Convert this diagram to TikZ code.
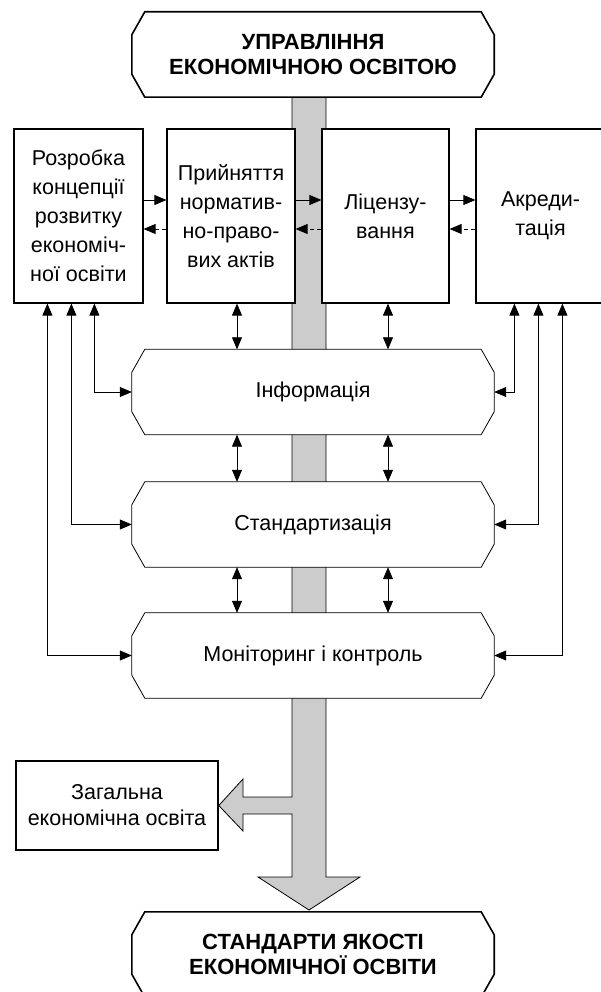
\documentclass[tikz,border=0pt]{standalone}
\usepackage{fontspec}
\setmainfont{Liberation Sans}
\usetikzlibrary{arrows.meta,backgrounds}

\definecolor{barfill}{HTML}{CCCCCC}

\tikzset{
  arr/.style={line width=0.8pt, -{Triangle[length=12pt,width=10pt]}},
  dbl/.style={line width=0.8pt, {Triangle[length=12pt,width=10pt]}-{Triangle[length=12pt,width=10pt]}},
  capbox/.style={minimum width=362pt, minimum height=85pt, inner sep=0pt, align=center,
    font=\fontsize{22}{24.5}\selectfont\bfseries},
  stepbox/.style={draw, line width=1.2pt, fill=white, minimum height=174pt, inner sep=0pt,
    align=center, font=\fontsize{21.5}{29}\selectfont},
  cutbox/.style={minimum width=362pt, minimum height=85pt, inner sep=0pt, align=center,
    font=\fontsize{21.5}{25}\selectfont},
  genbox/.style={draw, line width=1.6pt, fill=white, minimum width=202pt, minimum height=89pt,
    inner sep=0pt, align=center, font=\fontsize{21.5}{26}\selectfont},
}

% outline with cut corners round a named node
\newcommand\chamfer[2][]{%
  \draw[fill=white, #1] ([xshift=13pt]#2.north west) -- ([xshift=-13pt]#2.north east)
    -- ([yshift=-23pt]#2.north east) -- ([yshift=23pt]#2.south east)
    -- ([xshift=-13pt]#2.south east) -- ([xshift=13pt]#2.south west)
    -- ([yshift=23pt]#2.south west) -- ([yshift=-23pt]#2.north west) -- cycle;}

\begin{document}
\begin{tikzpicture}[x=1pt,y=-1pt]
  \useasboundingbox (0,0) rectangle (601,992);

  % head and foot
  \node[capbox] (head) at (313,54.5) {УПРАВЛІННЯ\\ЕКОНОМІЧНОЮ ОСВІТОЮ};
  \node[capbox] (foot) at (313,954.5) {СТАНДАРТИ ЯКОСТІ\\ЕКОНОМІЧНОЇ ОСВІТИ};

  % activity boxes
  \node[stepbox, minimum width=129pt] (concept) at (78.5,216) {Розробка\\концепції\\розвитку\\економіч-\\ної освіти};
  \node[stepbox, minimum width=128pt] (acts) at (231,216) {Прийняття\\норматив-\\но-право-\\вих актів};
  \node[stepbox, minimum width=127pt] (licence) at (385.5,216) {Ліцензу-\\вання};
  \node[stepbox, minimum width=129pt] (accred) at (540.5,216) {Акреди-\\тація};

  % functions
  \node[cutbox] (info) at (313,392) {Інформація};
  \node[cutbox] (stand) at (313,524.5) {Стандартизація};
  \node[cutbox] (monit) at (313,655.5) {Моніторинг і контроль};

  \node[genbox] (general) at (117,805.5) {Загальна\\економічна освіта};

  \coordinate (lane1) at (237,0);
  \coordinate (lane2) at (388,0);

  \begin{scope}[on background layer]
    % main flow
    \draw[line width=0.8pt, fill=barfill] (292,97) -- (292,797) -- (243,797) -- (243,779)
      -- (general.east) -- (243,831) -- (243,814) -- (292,814) -- (292,877) -- (258,877)
      -- (309,910) -- (360,877) -- (326,877) -- (326,97) -- cycle;
    \chamfer[line width=1.6pt]{head}
    \chamfer[line width=1.6pt]{foot}
    \chamfer[line width=0.8pt]{info}
    \chamfer[line width=0.8pt]{stand}
    \chamfer[line width=0.8pt]{monit}
  \end{scope}

  % links between the boxes
  \foreach \a/\b in {concept/acts, acts/licence, licence/accred} {
    \draw[arr] ([yshift=16pt]\a.east) -- ([yshift=16pt]\b.west);
    \draw[arr, dash pattern=on 4pt off 3pt] ([yshift=-13pt]\b.west) -- ([yshift=-13pt]\a.east);
  }

  % links down the middle
  \foreach \u/\v in {acts/info, info/stand, stand/monit} {
    \draw[dbl] (lane1 |- \u.south) -- (lane1 |- \v.north);
    \draw[dbl] (lane2 |- \u.south) -- (lane2 |- \v.north);
  }

  % links at the sides
  \foreach \f/\l/\r in {info/81/39, stand/58/63, monit/34/87} {
    \draw[dbl] (\f.west) -| ([xshift=\l pt]concept.south west);
    \draw[dbl] (\f.east) -| ([xshift=\r pt]accred.south west);
  }
\end{tikzpicture}
\end{document}
